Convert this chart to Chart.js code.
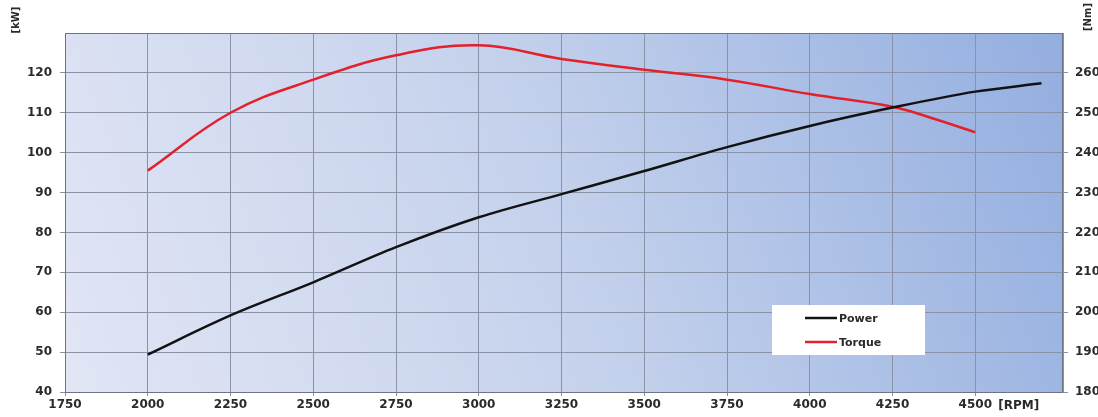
<!DOCTYPE html>
<html>
<head>
<meta charset="utf-8">
<script src="https://cdn.jsdelivr.net/npm/chart.js@4.4.0/dist/chart.umd.min.js"></script>
<style>
    body { margin: 0; background: #ffffff; }
    #wrap { width: 1098px; height: 417px; }
</style>
</head>
<body>
<div id="wrap"><canvas id="myChart" width="1098" height="417"></canvas></div>
<script>
// curva de potencia (kW) x rotacao
var rpmPotencia = [2000, 2250, 2500, 2750, 3000, 3250, 3500, 3750, 4000, 4250, 4500, 4700];
var potencia = [49.4, 59.2, 67.5, 76.3, 83.8, 89.6, 95.4, 101.4, 106.7, 111.3, 115.3, 117.4];

// curva de torque (Nm) x rotacao
var rpmTorque = [2000, 2250, 2500, 2750, 3000, 3250, 3500, 3750, 4000, 4250, 4375, 4500];
var torque = [235.5, 250.0, 258.3, 264.4, 266.9, 263.5, 260.8, 258.3, 254.7, 251.5, 248.5, 245.1];

// marcas do eixo x
var ticksRpm = [1750, 2000, 2250, 2500, 2750, 3000, 3250, 3500, 3750, 4000, 4250, 4500];

var nomesSeries = ['Power', 'Torque'];
var unidades = ['[kW]', '[Nm]', '[RPM]'];

var corTexto = '#2a2a2a';
var fonteTicks = { family: 'DejaVu Sans', size: 12, weight: 'bold' };
var corGrade = '#8a93a6';

function montarPontos(xs, ys) {
    return xs.map(function (x, i) { return { x: x, y: ys[i] }; });
}

// fundo em degrade da area do grafico
var fundo = {
    id: 'fundo',
    beforeDraw: function (chart) {
        var a = chart.chartArea;
        var c = chart.ctx;
        var g = c.createLinearGradient(a.left, a.bottom, a.right, a.top);
        g.addColorStop(0, '#e2e6f5');
        g.addColorStop(0.5, '#c4d1ec');
        g.addColorStop(1, '#93aee0');
        c.save();
        c.fillStyle = g;
        c.fillRect(a.left, a.top, a.right - a.left, a.bottom - a.top);
        c.restore();
    },
    beforeDatasetsDraw: function (chart) {
        var a = chart.chartArea;
        var c = chart.ctx;
        c.save();
        c.strokeStyle = '#6e7480';
        c.lineWidth = 1;
        c.strokeRect(a.left + 0.5, a.top + 0.5, a.right - a.left - 1, a.bottom - a.top);
        c.restore();
    }
};

// unidades dos eixos e legenda
var extras = {
    id: 'extras',
    afterDraw: function (chart) {
        var c = chart.ctx;
        var xs = chart.scales.x;
        c.save();
        c.fillStyle = corTexto;

        c.font = 'bold 10px "DejaVu Sans"';
        c.textAlign = 'center';
        c.textBaseline = 'middle';
        c.save();
        c.translate(16, 20);
        c.rotate(-Math.PI / 2);
        c.fillText(unidades[0], 0, 0);
        c.restore();
        c.save();
        c.translate(1088, 17);
        c.rotate(-Math.PI / 2);
        c.fillText(unidades[1], 0, 0);
        c.restore();

        c.font = 'bold 12px "DejaVu Sans"';
        c.textAlign = 'left';
        c.fillText(unidades[2], xs.getPixelForValue(4500) + 23, 406);

        // legenda
        c.fillStyle = '#ffffff';
        c.fillRect(772, 305, 153, 50);
        var ds = chart.data.datasets;
        var linhasY = [318, 342];
        c.font = 'bold 11px "DejaVu Sans"';
        for (var i = 0; i < ds.length; i++) {
            c.strokeStyle = ds[i].borderColor;
            c.lineWidth = 2.5;
            c.beginPath();
            c.moveTo(805, linhasY[i]);
            c.lineTo(837, linhasY[i]);
            c.stroke();
            c.fillStyle = corTexto;
            c.fillText(ds[i].label, 839, linhasY[i] + 1);
        }
        c.restore();
    }
};

var ctx = document.getElementById('myChart');
var myChart = new Chart(ctx, {
    type: 'line',
    data: {
        datasets: [{
            label: nomesSeries[0],
            data: montarPontos(rpmPotencia, potencia),
            borderColor: '#121212',
            borderWidth: 2.5,
            pointRadius: 0,
            cubicInterpolationMode: 'monotone',
            yAxisID: 'y'
        }, {
            label: nomesSeries[1],
            data: montarPontos(rpmTorque, torque),
            borderColor: '#e3202b',
            borderWidth: 2.5,
            pointRadius: 0,
            tension: 0.4,
            yAxisID: 'y1'
        }]
    },
    options: {
        responsive: false,
        animation: false,
        layout: { padding: { top: 33, left: 0, right: 0, bottom: 0 } },
        plugins: {
            legend: { display: false },
            tooltip: { enabled: false }
        },
        scales: {
            x: {
                type: 'linear',
                min: 1750,
                max: 4765,
                afterBuildTicks: function (axis) {
                    axis.ticks = ticksRpm.map(function (v) { return { value: v }; });
                },
                afterFit: function (s) { s.height = 25; },
                ticks: {
                    autoSkip: false,
                    maxRotation: 0,
                    padding: 2,
                    color: corTexto,
                    font: fonteTicks,
                    callback: function (v) { return String(v); }
                },
                grid: { color: corGrade, tickLength: 4, tickColor: corGrade },
                border: { display: true, color: '#6e7480' }
            },
            y: {
                position: 'left',
                min: 40,
                max: 130,
                afterFit: function (s) { s.width = 65; },
                ticks: {
                    stepSize: 10,
                    padding: 8,
                    color: corTexto,
                    font: fonteTicks,
                    callback: function (v) { return v === 130 ? '' : String(v); }
                },
                grid: {
                    color: corGrade,
                    tickLength: 5,
                    tickColor: function (c) { return c.tick && c.tick.value === 130 ? 'rgba(0,0,0,0)' : corGrade; }
                },
                border: { display: true, color: '#8a93a6' }
            },
            y1: {
                position: 'right',
                min: 180,
                max: 270,
                afterFit: function (s) { s.width = 35; },
                ticks: {
                    stepSize: 10,
                    padding: 7,
                    color: corTexto,
                    font: fonteTicks,
                    callback: function (v) { return v === 270 ? '' : String(v); }
                },
                grid: {
                    drawOnChartArea: false,
                    tickLength: 5,
                    tickColor: function (c) { return c.tick && c.tick.value === 270 ? 'rgba(0,0,0,0)' : corGrade; }
                },
                border: { display: true, color: '#8a93a6' }
            }
        }
    },
    plugins: [fundo, extras]
});
</script>
</body>
</html>
